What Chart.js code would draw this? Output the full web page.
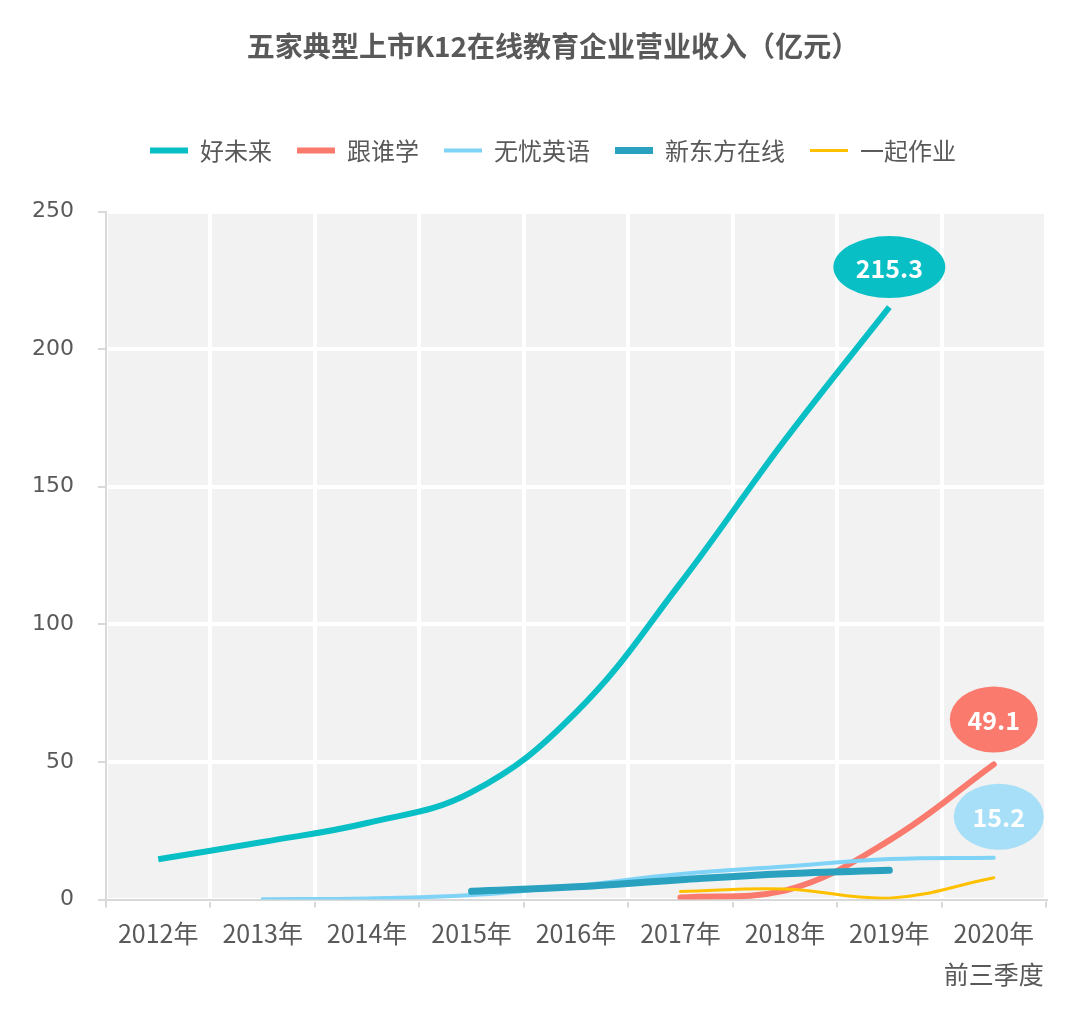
<!DOCTYPE html>
<html>
<head>
<meta charset="utf-8">
<script src="https://cdn.jsdelivr.net/npm/chart.js@4.4.1/dist/chart.umd.min.js"></script>
<style>
  body { margin: 0; background: #fff; }
  canvas { display: block; }
</style>
</head>
<body>
<canvas id="chart" width="1080" height="1009"></canvas>
<script>
const years = ['2012年', '2013年', '2014年', '2015年', '2016年', '2017年', '2018年', '2019年', ['2020年', '前三季度']]
const names = ['好未来', '跟谁学', '无忧英语', '新东方在线', '一起作业']

const haoweilai = [14.6, 20.9, 27.8, 39.0, 68.0, 115.0, 167.0, 215.3, null]
const genshuixue = [null, null, null, null, null, 0.7, 3.2, 21.5, 49.1]
const wuyouyingyu = [null, 0.1, 0.4, 1.6, 5.0, 9.3, 12.0, 14.7, 15.2]
const xindongfang = [null, null, null, 3.0, 4.6, 7.2, 9.4, 10.6, null]
const yiqizuoye = [null, null, null, null, null, 2.9, 3.8, 0.5, 7.9]

const colors = ['#08bfc5', '#fa7a6e', '#7fd3f7', '#2aa1bf', '#ffc000']
const widths = [6, 6, 4, 7, 3]

// bubble callouts on the last point of the first three series
const callouts = [
  { dataset: 0, fill: '#08bfc5', dx: 0, dy: -40, w: 112, h: 62 },
  { dataset: 1, fill: '#fa7a6e', dx: 0, dy: -45, w: 88, h: 66 },
  { dataset: 2, fill: '#a6dff7', dx: 5, dy: -41, w: 90, h: 66 },
]

const plotBg = {
  id: 'plotBg',
  beforeDraw(chart) {
    const { ctx, chartArea: a } = chart
    ctx.save()
    ctx.fillStyle = '#f2f2f2'
    ctx.fillRect(a.left, a.top, a.right - a.left, a.bottom - a.top)
    ctx.restore()
  },
}

// extra room under the legend, and title/legend centred a bit to the right
const headerTweak = {
  id: 'headerTweak',
  beforeInit(chart) {
    const fit = chart.legend.fit
    chart.legend.fit = function () {
      fit.call(this)
      this.height += 39
    }
  },
  afterLayout(chart) {
    ;[chart.titleBlock, chart.legend].forEach((b) => {
      b.left += 26
      b.right += 26
    })
  },
}

const bubbles = {
  id: 'bubbles',
  afterDatasetsDraw(chart) {
    const ctx = chart.ctx
    callouts.forEach((c) => {
      const meta = chart.getDatasetMeta(c.dataset)
      const data = chart.data.datasets[c.dataset].data
      let idx = data.length - 1
      while (data[idx] == null) idx--
      const pt = meta.data[idx]
      const cx = pt.x + c.dx
      const cy = pt.y + c.dy
      ctx.save()
      ctx.fillStyle = c.fill
      ctx.beginPath()
      ctx.ellipse(cx, cy, c.w / 2, c.h / 2, 0, 0, Math.PI * 2)
      ctx.fill()
      ctx.fillStyle = '#fff'
      ctx.font = 'bold 25px "Noto Sans CJK SC", "Noto Sans", sans-serif'
      ctx.textAlign = 'center'
      ctx.textBaseline = 'middle'
      ctx.fillText(String(data[idx]), cx, cy + 1)
      ctx.restore()
    })
  },
}

const series = [haoweilai, genshuixue, wuyouyingyu, xindongfang, yiqizuoye]

const ctx = document.getElementById('chart').getContext('2d')
new Chart(ctx, {
  type: 'line',
  data: {
    labels: years,
    datasets: series.map((d, i) => ({
      label: names[i],
      data: d,
      borderColor: colors[i],
      backgroundColor: colors[i],
      borderWidth: widths[i],
      borderCapStyle: i === 0 ? 'butt' : 'round',
      pointRadius: 0,
      pointHoverRadius: 0,
      tension: 0.4,
      fill: false,
      order: 5 - i,
    })),
  },
  options: {
    responsive: false,
    animation: false,
    devicePixelRatio: 1,
    layout: { padding: { left: 8, right: 34, top: 0, bottom: 9 } },
    plugins: {
      title: {
        display: true,
        text: '五家典型上市K12在线教育企业营业收入（亿元）',
        color: '#595959',
        font: { family: '"Noto Sans CJK SC", sans-serif', size: 28, weight: 'bold' },
        padding: { top: 30, bottom: 50 },
      },
      legend: {
        display: true,
        labels: {
          color: '#595959',
          font: { family: '"Noto Sans CJK SC", sans-serif', size: 24 },
          usePointStyle: true,
          pointStyle: 'line',
          pointStyleWidth: 38,
          boxHeight: 24,
          padding: 25,
          sort: (a, b) => a.datasetIndex - b.datasetIndex,
        },
      },
      tooltip: { enabled: false },
    },
    scales: {
      x: {
        offset: true,
        grid: {
          offset: true,
          color: '#ffffff',
          lineWidth: 4,
          tickColor: '#d9d9d9',
          tickWidth: 2,
          tickLength: 8,
        },
        border: { color: '#d9d9d9', width: 2 },
        ticks: {
          color: '#595959',
          padding: 5,
          font: { family: '"Noto Sans CJK SC", sans-serif', size: 25, lineHeight: 1.65 },
          maxRotation: 0,
          autoSkip: false,
        },
      },
      y: {
        min: 0,
        max: 250,
        ticks: {
          stepSize: 50,
          color: '#595959',
          padding: 24,
          font: { family: '"DejaVu Sans", sans-serif', size: 22 },
        },
        grid: {
          color: '#ffffff',
          lineWidth: 4,
          tickColor: '#d9d9d9',
          tickWidth: 2,
          tickLength: 8,
        },
        border: { color: '#d9d9d9', width: 2 },
      },
    },
  },
  plugins: [plotBg, headerTweak, bubbles],
})
</script>
</body>
</html>
